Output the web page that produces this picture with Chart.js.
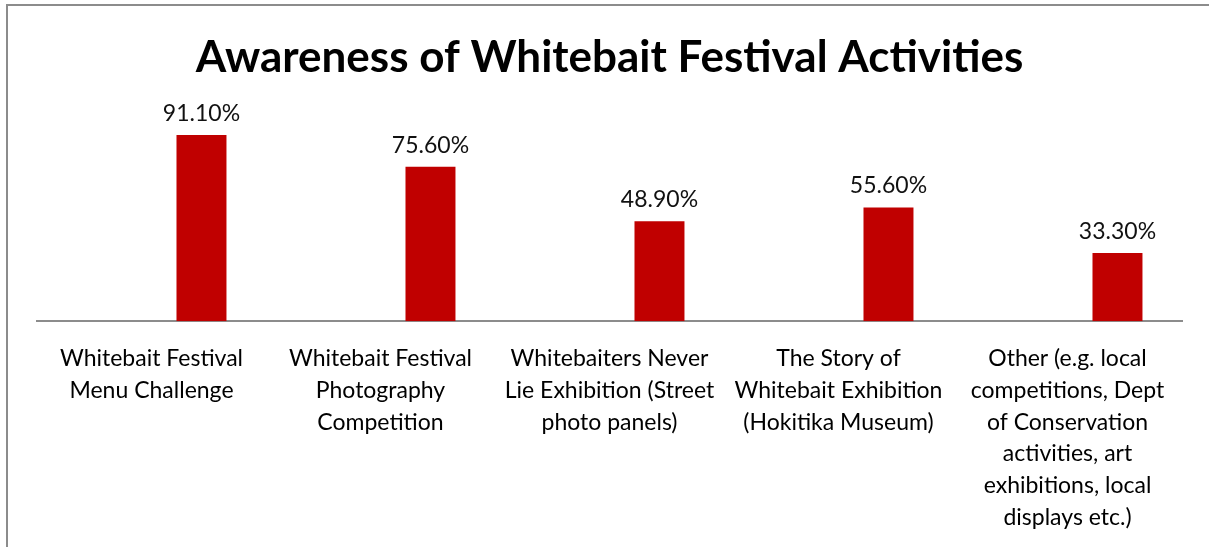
<!DOCTYPE html>
<html>
<head>
<meta charset="utf-8">
<script src="https://cdn.jsdelivr.net/npm/chart.js@4"></script>
<style>
  html, body { margin: 0; padding: 0; background: #fff; overflow: hidden; }
  #frame { position: absolute; left: 6px; top: 4px; width: 1400px; height: 700px; border: 2px solid #8c8c8c; }
  #wrap { position: absolute; left: 0; top: 0; width: 1209px; height: 559px; }
</style>
</head>
<body>
<div id="frame"></div>
<div id="wrap"><canvas id="chart"></canvas></div>
<script>
// 图表数据
const categories = [
    ['Whitebait Festival', 'Menu Challenge'],
    ['Whitebait Festival', 'Photography', 'Competition'],
    ['Whitebaiters Never', 'Lie Exhibition (Street', 'photo panels)'],
    ['The Story of', 'Whitebait Exhibition', '(Hokitika Museum)'],
    ['Other (e.g. local', 'competitions, Dept', 'of Conservation', 'activities, art', 'exhibitions, local', 'displays etc.)']
];
const awareness = [91.1, 75.6, 48.9, 55.6, 33.3];
const blankSeries = [null, null, null, null, null];
const titleText = 'Awareness of Whitebait Festival Activities';

// 数值标签
const valueLabels = {
    id: 'valueLabels',
    afterDatasetsDraw(chart) {
        const ctx = chart.ctx;
        const meta = chart.getDatasetMeta(1);
        ctx.save();
        ctx.font = '23px Lato';
        ctx.fillStyle = '#111';
        ctx.textAlign = 'center';
        ctx.textBaseline = 'bottom';
        meta.data.forEach((bar, i) => {
            ctx.fillText(awareness[i].toFixed(2) + '%', bar.x, bar.y - 10);
        });
        ctx.restore();
    }
};

const ctx = document.getElementById('chart').getContext('2d');
new Chart(ctx, {
    type: 'bar',
    data: {
        labels: categories,
        datasets: [
            { data: blankSeries, backgroundColor: '#C00000' },
            { data: awareness, backgroundColor: '#C00000' }
        ]
    },
    options: {
        responsive: true,
        maintainAspectRatio: false,
        animation: false,
        categoryPercentage: 0.873,
        barPercentage: 0.5,
        layout: { padding: { left: 37, right: 27, top: 0, bottom: 12 } },
        plugins: {
            legend: { display: false },
            tooltip: { enabled: false },
            title: {
                display: true,
                text: titleText,
                color: '#000',
                font: { family: 'Lato', size: 44, weight: 'bold', lineHeight: 1.2 },
                padding: { top: 31, bottom: 33 }
            }
        },
        scales: {
            x: {
                grid: { display: false },
                border: { display: true, color: '#8c8c8c', width: 2 },
                ticks: {
                    color: '#000',
                    font: { family: 'Lato', size: 23, lineHeight: 1.39 },
                    maxRotation: 0,
                    autoSkip: false,
                    padding: 13
                }
            },
            y: {
                display: false,
                min: 0,
                max: 100
            }
        }
    },
    plugins: [valueLabels]
});
</script>
</body>
</html>
